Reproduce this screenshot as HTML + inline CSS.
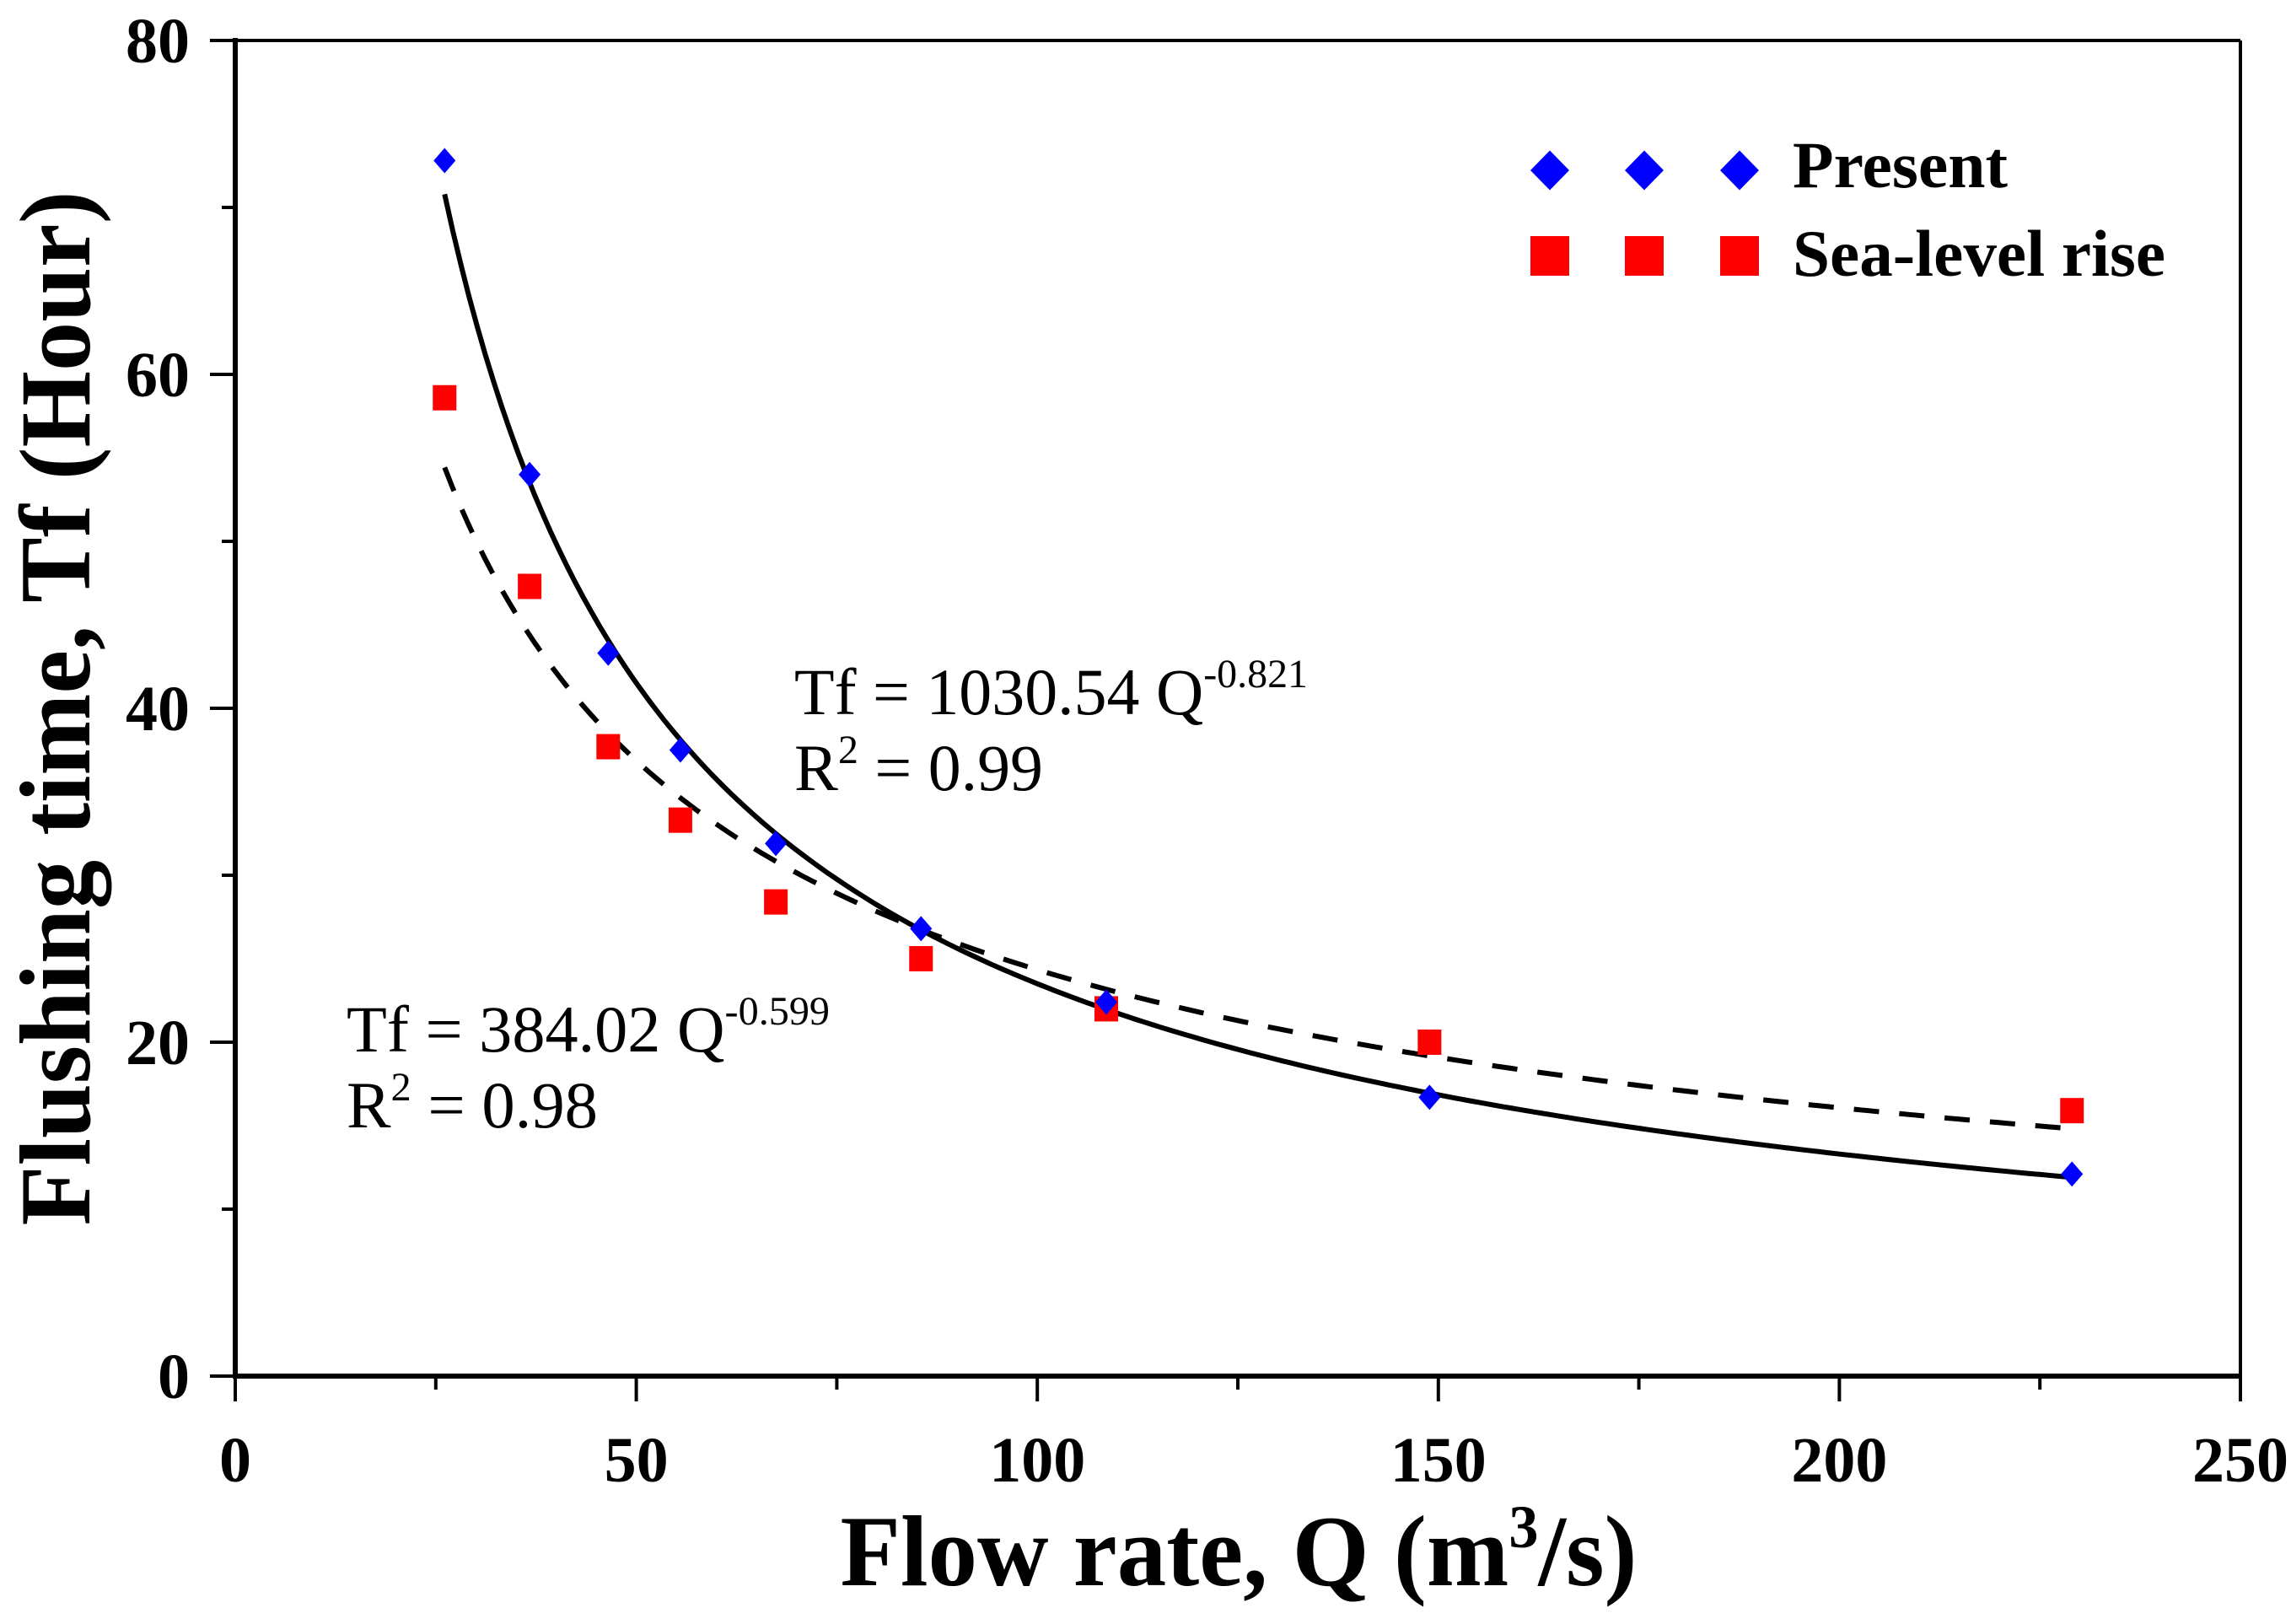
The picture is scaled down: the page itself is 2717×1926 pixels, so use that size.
<!DOCTYPE html>
<html><head><meta charset="utf-8"><style>
html,body{margin:0;padding:0;background:#fff;}
svg{display:block;}
text{font-family:"Liberation Serif",serif;}
</style></head><body>
<svg id="chart" width="2717" height="1926" viewBox="0 0 2717 1926" xmlns="http://www.w3.org/2000/svg">
<g id="axes"></g>
<g id="curves"></g>
<g id="marks"></g>
<g>
  <text x="2126" y="222" font-size="78" font-weight="bold" textLength="255" lengthAdjust="spacingAndGlyphs">Present</text>
  <text x="2126" y="327" font-size="78" font-weight="bold" textLength="442" lengthAdjust="spacingAndGlyphs">Sea-level rise</text>
  <g id="legendMarks"></g>
</g>
<text x="942" y="847" font-size="78" textLength="609" lengthAdjust="spacingAndGlyphs">Tf = 1030.54 Q<tspan dy="-32" font-size="48">-0.821</tspan></text>
<text x="942" y="937" font-size="78" textLength="295" lengthAdjust="spacingAndGlyphs">R<tspan dy="-32" font-size="48">2</tspan><tspan dy="32"> = 0.99</tspan></text>
<text x="411" y="1247" font-size="78" textLength="573" lengthAdjust="spacingAndGlyphs">Tf = 384.02 Q<tspan dy="-32" font-size="48">-0.599</tspan></text>
<text x="411" y="1337" font-size="78" textLength="298" lengthAdjust="spacingAndGlyphs">R<tspan dy="-32" font-size="48">2</tspan><tspan dy="32"> = 0.98</tspan></text>
<text x="1469" y="1880" font-size="120" font-weight="bold" text-anchor="middle" textLength="945" lengthAdjust="spacingAndGlyphs">Flow rate, Q (m<tspan dy="-45" font-size="72">3</tspan><tspan dy="45">/s)</tspan></text>
<text transform="translate(106,840) rotate(-90)" x="0" y="0" font-size="120" font-weight="bold" text-anchor="middle" textLength="1227" lengthAdjust="spacingAndGlyphs">Flushing time, Tf (Hour)</text>
</svg>
<script>
const flowQ = [26.1, 36.7, 46.5, 55.5, 67.4, 85.5, 108.6, 148.9, 229.0];
const presentT = [72.8, 54.0, 43.3, 37.5, 31.9, 26.8, 22.4, 16.7, 12.1];
const seaLevelT = [58.6, 47.3, 37.7, 33.3, 28.4, 25.0, 22.0, 20.0, 15.9];
const presentFit = [1030.54, -0.821];
const seaLevelFit = [384.02, -0.599];
const xTicks = [0, 50, 100, 150, 200, 250];
const yTicks = [0, 20, 40, 60, 80];

const NS = 'http://www.w3.org/2000/svg';
const X0 = 279, X1 = 2657, Y0 = 1632, Y1 = 48;
const xs = v => X0 + (v - 0) / 250 * (X1 - X0);
const ys = v => Y0 - (v - 0) / 80 * (Y0 - Y1);
function mk(tag, attrs, parent) {
  const e = document.createElementNS(NS, tag);
  for (const k in attrs) e.setAttribute(k, attrs[k]);
  parent.appendChild(e);
  return e;
}
const axes = document.getElementById('axes');
let e;
e = mk('line', {x1: X0, y1: Y1, x2: X1, y2: Y1, stroke: '#000', 'stroke-width': 4}, axes);


e = mk('line', {x1: X1, y1: Y1, x2: X1, y2: Y0, stroke: '#000', 'stroke-width': 4}, axes);


e = mk('line', {x1: X0, y1: Y1 - 3, x2: X0, y2: Y0 + 3, stroke: '#000', 'stroke-width': 6}, axes);


e = mk('line', {x1: X0 - 3, y1: Y0, x2: X1, y2: Y0, stroke: '#000', 'stroke-width': 6}, axes);


for (let v = 0; v <= 250; v += 25) {
  const major = v % 50 === 0;
  e = mk('line', {x1: xs(v), y1: Y0, x2: xs(v), y2: Y0 + (major ? 30 : 16), stroke: '#000', 'stroke-width': 4}, axes);
  
  
}
for (let v = 0; v <= 80; v += 10) {
  const major = v % 20 === 0;
  e = mk('line', {x1: X0 - (major ? 30 : 16), y1: ys(v), x2: X0, y2: ys(v), stroke: '#000', 'stroke-width': 4}, axes);
  
  
}
xTicks.forEach(v => {
  const t = mk('text', {x: xs(v), y: 1757, 'font-size': 76, 'font-weight': 'bold', 'text-anchor': 'middle'}, axes);
  t.textContent = v;
  
  
});
yTicks.forEach(v => {
  const t = mk('text', {x: 225, y: ys(v) + 26, 'font-size': 76, 'font-weight': 'bold', 'text-anchor': 'end'}, axes);
  t.textContent = v;
  
  
});

const curves = document.getElementById('curves');
function fitPath(fit) {
  let d = '';
  const qa = flowQ[0], qb = flowQ[flowQ.length - 1];
  for (let i = 0; i <= 200; i++) {
    const q = qa + (qb - qa) * i / 200;
    const t = fit[0] * Math.pow(q, fit[1]);
    d += (i ? 'L' : 'M') + xs(q).toFixed(1) + ',' + ys(t).toFixed(1);
  }
  return d;
}
e = mk('path', {d: fitPath(presentFit), fill: 'none', stroke: '#000', 'stroke-width': 6}, curves);


e = mk('path', {d: fitPath(seaLevelFit), fill: 'none', stroke: '#000', 'stroke-width': 6, 'stroke-dasharray': '30 24'}, curves);



const marks = document.getElementById('marks');
function diamond(cx, cy, w, h, parent) {
  return mk('polygon', {points: `${cx},${cy - h / 2} ${cx + w / 2},${cy} ${cx},${cy + h / 2} ${cx - w / 2},${cy}`, fill: '#0000ff'}, parent);
}
seaLevelT.forEach((v, i) => {
  const r = mk('rect', {x: xs(flowQ[i]) - 14, y: ys(v) - 15, width: 28, height: 30, fill: '#ff0000'}, marks);
  
  
});
presentT.forEach((v, i) => {
  const p = diamond(xs(flowQ[i]), ys(v), 26, 30, marks);
  
  
});
const lm = document.getElementById('legendMarks');
[1838, 1950, 2063].forEach(cx => {
  const p = diamond(cx, 202, 46, 47, lm);
  
  
  const r = mk('rect', {x: cx - 23, y: 280, width: 46, height: 47, fill: '#ff0000'}, lm);
  
  
});
</script>
</body></html>
